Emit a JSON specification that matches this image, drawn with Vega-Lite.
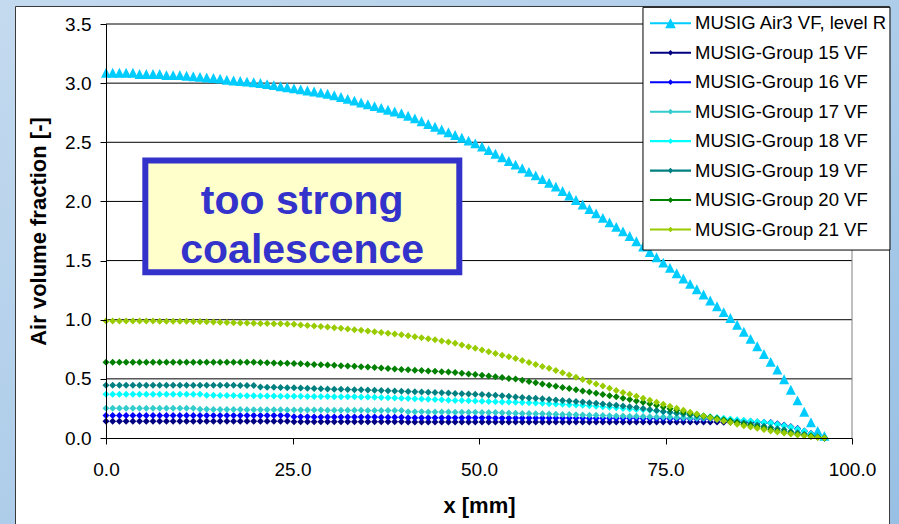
{
  "$schema": "https://vega.github.io/schema/vega-lite/v6.json",
  "width": 746,
  "height": 414,
  "autosize": {"type": "none"},
  "padding": {"left": 106, "top": 24, "right": 47, "bottom": 86},
  "background": "#aacbe8",
  "config": {
    "font": "Liberation Sans",
    "view": {"stroke": null},
    "axis": {"grid": false, "domainColor": "black", "tickColor": "black", "labelColor": "black", "titleColor": "black"},
    "legend": {"padding": 6, "labelFontSize": 18.5, "labelLimit": 320, "labelOffset": 3, "rowPadding": 5.46, "clipHeight": 24, "symbolSize": 1681, "labelColor": "black", "labelFont": "Liberation Sans", "cornerRadius": 0}
  },
  "resolve": {"scale": {"color": "independent"}, "legend": {"color": "independent"}},
  "datasets": {
    "series": [
      {"key": "a", "label": "MUSIG Air3 VF, level R", "idx": 0},
      {"key": "g15", "label": "MUSIG-Group 15 VF", "idx": 1},
      {"key": "g16", "label": "MUSIG-Group 16 VF", "idx": 2},
      {"key": "g17", "label": "MUSIG-Group 17 VF", "idx": 3},
      {"key": "g18", "label": "MUSIG-Group 18 VF", "idx": 4},
      {"key": "g19", "label": "MUSIG-Group 19 VF", "idx": 5},
      {"key": "g20", "label": "MUSIG-Group 20 VF", "idx": 6},
      {"key": "g21", "label": "MUSIG-Group 21 VF", "idx": 7}
    ],
    "grid": [{"g": 0.5}, {"g": 1.0}, {"g": 1.5}, {"g": 2.0}, {"g": 2.5}, {"g": 3.0}, {"g": 3.5}],
    "profiles": [
      {"x": 0, "a": 3.07, "g15": 0.142, "g16": 0.19, "g17": 0.252, "g18": 0.37, "g19": 0.445, "g20": 0.64, "g21": 0.99},
      {"x": 0.9, "a": 3.07, "g15": 0.142, "g16": 0.19, "g17": 0.252, "g18": 0.37, "g19": 0.445, "g20": 0.64, "g21": 0.99},
      {"x": 1.8, "a": 3.07, "g15": 0.142, "g16": 0.19, "g17": 0.252, "g18": 0.37, "g19": 0.445, "g20": 0.64, "g21": 0.99},
      {"x": 2.7, "a": 3.07, "g15": 0.142, "g16": 0.19, "g17": 0.252, "g18": 0.37, "g19": 0.445, "g20": 0.64, "g21": 0.99},
      {"x": 3.6, "a": 3.07, "g15": 0.142, "g16": 0.19, "g17": 0.252, "g18": 0.37, "g19": 0.445, "g20": 0.64, "g21": 0.99},
      {"x": 4.5, "a": 3.06, "g15": 0.142, "g16": 0.19, "g17": 0.252, "g18": 0.37, "g19": 0.445, "g20": 0.64, "g21": 0.99},
      {"x": 5.4, "a": 3.06, "g15": 0.142, "g16": 0.19, "g17": 0.252, "g18": 0.37, "g19": 0.445, "g20": 0.64, "g21": 0.989},
      {"x": 6.3, "a": 3.06, "g15": 0.142, "g16": 0.19, "g17": 0.252, "g18": 0.37, "g19": 0.445, "g20": 0.64, "g21": 0.989},
      {"x": 7.2, "a": 3.06, "g15": 0.142, "g16": 0.19, "g17": 0.252, "g18": 0.37, "g19": 0.445, "g20": 0.64, "g21": 0.988},
      {"x": 8.1, "a": 3.05, "g15": 0.142, "g16": 0.19, "g17": 0.252, "g18": 0.37, "g19": 0.445, "g20": 0.64, "g21": 0.988},
      {"x": 9.0, "a": 3.05, "g15": 0.142, "g16": 0.19, "g17": 0.252, "g18": 0.37, "g19": 0.445, "g20": 0.64, "g21": 0.987},
      {"x": 9.9, "a": 3.05, "g15": 0.142, "g16": 0.19, "g17": 0.252, "g18": 0.37, "g19": 0.445, "g20": 0.64, "g21": 0.987},
      {"x": 10.8, "a": 3.045, "g15": 0.142, "g16": 0.19, "g17": 0.252, "g18": 0.37, "g19": 0.445, "g20": 0.64, "g21": 0.986},
      {"x": 11.7, "a": 3.04, "g15": 0.142, "g16": 0.19, "g17": 0.252, "g18": 0.37, "g19": 0.445, "g20": 0.64, "g21": 0.985},
      {"x": 12.6, "a": 3.035, "g15": 0.142, "g16": 0.19, "g17": 0.242, "g18": 0.37, "g19": 0.445, "g20": 0.64, "g21": 0.984},
      {"x": 13.5, "a": 3.03, "g15": 0.142, "g16": 0.19, "g17": 0.242, "g18": 0.362, "g19": 0.445, "g20": 0.64, "g21": 0.982},
      {"x": 14.4, "a": 3.025, "g15": 0.142, "g16": 0.19, "g17": 0.241, "g18": 0.361, "g19": 0.445, "g20": 0.64, "g21": 0.98},
      {"x": 15.3, "a": 3.02, "g15": 0.142, "g16": 0.19, "g17": 0.241, "g18": 0.36, "g19": 0.445, "g20": 0.64, "g21": 0.979},
      {"x": 16.2, "a": 3.01, "g15": 0.142, "g16": 0.19, "g17": 0.24, "g18": 0.36, "g19": 0.445, "g20": 0.64, "g21": 0.977},
      {"x": 17.1, "a": 3.005, "g15": 0.142, "g16": 0.19, "g17": 0.24, "g18": 0.359, "g19": 0.445, "g20": 0.64, "g21": 0.975},
      {"x": 18.0, "a": 3.0, "g15": 0.142, "g16": 0.19, "g17": 0.24, "g18": 0.358, "g19": 0.444, "g20": 0.64, "g21": 0.973},
      {"x": 18.9, "a": 2.995, "g15": 0.142, "g16": 0.19, "g17": 0.239, "g18": 0.357, "g19": 0.444, "g20": 0.64, "g21": 0.972},
      {"x": 19.8, "a": 2.99, "g15": 0.142, "g16": 0.19, "g17": 0.239, "g18": 0.357, "g19": 0.444, "g20": 0.64, "g21": 0.97},
      {"x": 20.7, "a": 2.983, "g15": 0.142, "g16": 0.19, "g17": 0.239, "g18": 0.356, "g19": 0.432, "g20": 0.639, "g21": 0.969},
      {"x": 21.6, "a": 2.974, "g15": 0.142, "g16": 0.19, "g17": 0.238, "g18": 0.355, "g19": 0.43, "g20": 0.637, "g21": 0.967},
      {"x": 22.5, "a": 2.965, "g15": 0.142, "g16": 0.19, "g17": 0.238, "g18": 0.355, "g19": 0.429, "g20": 0.635, "g21": 0.966},
      {"x": 23.4, "a": 2.956, "g15": 0.142, "g16": 0.19, "g17": 0.238, "g18": 0.354, "g19": 0.427, "g20": 0.633, "g21": 0.965},
      {"x": 24.3, "a": 2.947, "g15": 0.142, "g16": 0.19, "g17": 0.237, "g18": 0.353, "g19": 0.425, "g20": 0.631, "g21": 0.963},
      {"x": 25.2, "a": 2.938, "g15": 0.137, "g16": 0.179, "g17": 0.237, "g18": 0.353, "g19": 0.424, "g20": 0.629, "g21": 0.961},
      {"x": 26.1, "a": 2.929, "g15": 0.137, "g16": 0.179, "g17": 0.237, "g18": 0.352, "g19": 0.422, "g20": 0.627, "g21": 0.956},
      {"x": 27.0, "a": 2.92, "g15": 0.137, "g16": 0.179, "g17": 0.236, "g18": 0.351, "g19": 0.42, "g20": 0.624, "g21": 0.952},
      {"x": 27.9, "a": 2.911, "g15": 0.137, "g16": 0.178, "g17": 0.236, "g18": 0.351, "g19": 0.419, "g20": 0.622, "g21": 0.947},
      {"x": 28.8, "a": 2.902, "g15": 0.137, "g16": 0.178, "g17": 0.236, "g18": 0.35, "g19": 0.417, "g20": 0.619, "g21": 0.942},
      {"x": 29.7, "a": 2.893, "g15": 0.137, "g16": 0.178, "g17": 0.235, "g18": 0.35, "g19": 0.415, "g20": 0.617, "g21": 0.938},
      {"x": 30.6, "a": 2.88, "g15": 0.137, "g16": 0.178, "g17": 0.235, "g18": 0.349, "g19": 0.413, "g20": 0.614, "g21": 0.933},
      {"x": 31.5, "a": 2.865, "g15": 0.137, "g16": 0.178, "g17": 0.235, "g18": 0.349, "g19": 0.412, "g20": 0.611, "g21": 0.927},
      {"x": 32.4, "a": 2.849, "g15": 0.137, "g16": 0.177, "g17": 0.234, "g18": 0.348, "g19": 0.41, "g20": 0.608, "g21": 0.921},
      {"x": 33.3, "a": 2.834, "g15": 0.137, "g16": 0.177, "g17": 0.234, "g18": 0.348, "g19": 0.408, "g20": 0.606, "g21": 0.916},
      {"x": 34.2, "a": 2.819, "g15": 0.137, "g16": 0.177, "g17": 0.234, "g18": 0.347, "g19": 0.407, "g20": 0.603, "g21": 0.91},
      {"x": 35.1, "a": 2.803, "g15": 0.137, "g16": 0.177, "g17": 0.233, "g18": 0.347, "g19": 0.405, "g20": 0.6, "g21": 0.904},
      {"x": 36.0, "a": 2.788, "g15": 0.137, "g16": 0.177, "g17": 0.233, "g18": 0.345, "g19": 0.403, "g20": 0.596, "g21": 0.898},
      {"x": 36.9, "a": 2.773, "g15": 0.137, "g16": 0.176, "g17": 0.233, "g18": 0.342, "g19": 0.401, "g20": 0.591, "g21": 0.892},
      {"x": 37.8, "a": 2.757, "g15": 0.137, "g16": 0.176, "g17": 0.232, "g18": 0.34, "g19": 0.399, "g20": 0.587, "g21": 0.886},
      {"x": 38.7, "a": 2.742, "g15": 0.137, "g16": 0.176, "g17": 0.232, "g18": 0.338, "g19": 0.397, "g20": 0.583, "g21": 0.88},
      {"x": 39.6, "a": 2.727, "g15": 0.137, "g16": 0.176, "g17": 0.232, "g18": 0.336, "g19": 0.395, "g20": 0.579, "g21": 0.873},
      {"x": 40.5, "a": 2.707, "g15": 0.136, "g16": 0.172, "g17": 0.222, "g18": 0.334, "g19": 0.393, "g20": 0.576, "g21": 0.865},
      {"x": 41.4, "a": 2.684, "g15": 0.136, "g16": 0.172, "g17": 0.221, "g18": 0.331, "g19": 0.39, "g20": 0.573, "g21": 0.856},
      {"x": 42.3, "a": 2.66, "g15": 0.136, "g16": 0.172, "g17": 0.221, "g18": 0.329, "g19": 0.388, "g20": 0.57, "g21": 0.848},
      {"x": 43.2, "a": 2.637, "g15": 0.136, "g16": 0.172, "g17": 0.22, "g18": 0.327, "g19": 0.386, "g20": 0.567, "g21": 0.839},
      {"x": 44.1, "a": 2.613, "g15": 0.136, "g16": 0.172, "g17": 0.22, "g18": 0.325, "g19": 0.384, "g20": 0.564, "g21": 0.83},
      {"x": 45.0, "a": 2.59, "g15": 0.136, "g16": 0.171, "g17": 0.219, "g18": 0.323, "g19": 0.382, "g20": 0.561, "g21": 0.821},
      {"x": 45.9, "a": 2.567, "g15": 0.136, "g16": 0.171, "g17": 0.219, "g18": 0.32, "g19": 0.38, "g20": 0.559, "g21": 0.812},
      {"x": 46.8, "a": 2.543, "g15": 0.136, "g16": 0.171, "g17": 0.218, "g18": 0.318, "g19": 0.377, "g20": 0.554, "g21": 0.8},
      {"x": 47.7, "a": 2.52, "g15": 0.136, "g16": 0.171, "g17": 0.218, "g18": 0.316, "g19": 0.375, "g20": 0.548, "g21": 0.786},
      {"x": 48.6, "a": 2.496, "g15": 0.136, "g16": 0.171, "g17": 0.217, "g18": 0.314, "g19": 0.372, "g20": 0.542, "g21": 0.772},
      {"x": 49.5, "a": 2.473, "g15": 0.136, "g16": 0.171, "g17": 0.217, "g18": 0.312, "g19": 0.37, "g20": 0.536, "g21": 0.758},
      {"x": 50.4, "a": 2.446, "g15": 0.136, "g16": 0.171, "g17": 0.216, "g18": 0.31, "g19": 0.367, "g20": 0.531, "g21": 0.744},
      {"x": 51.3, "a": 2.416, "g15": 0.136, "g16": 0.171, "g17": 0.216, "g18": 0.308, "g19": 0.364, "g20": 0.524, "g21": 0.729},
      {"x": 52.2, "a": 2.385, "g15": 0.136, "g16": 0.17, "g17": 0.215, "g18": 0.306, "g19": 0.362, "g20": 0.518, "g21": 0.714},
      {"x": 53.1, "a": 2.355, "g15": 0.136, "g16": 0.17, "g17": 0.214, "g18": 0.305, "g19": 0.358, "g20": 0.511, "g21": 0.7},
      {"x": 54.0, "a": 2.324, "g15": 0.136, "g16": 0.17, "g17": 0.212, "g18": 0.304, "g19": 0.353, "g20": 0.504, "g21": 0.686},
      {"x": 54.9, "a": 2.293, "g15": 0.136, "g16": 0.17, "g17": 0.21, "g18": 0.303, "g19": 0.347, "g20": 0.498, "g21": 0.672},
      {"x": 55.8, "a": 2.263, "g15": 0.136, "g16": 0.17, "g17": 0.208, "g18": 0.301, "g19": 0.343, "g20": 0.488, "g21": 0.655},
      {"x": 56.7, "a": 2.232, "g15": 0.136, "g16": 0.17, "g17": 0.207, "g18": 0.298, "g19": 0.339, "g20": 0.478, "g21": 0.639},
      {"x": 57.6, "a": 2.202, "g15": 0.136, "g16": 0.17, "g17": 0.205, "g18": 0.295, "g19": 0.335, "g20": 0.468, "g21": 0.622},
      {"x": 58.5, "a": 2.171, "g15": 0.136, "g16": 0.17, "g17": 0.204, "g18": 0.293, "g19": 0.331, "g20": 0.457, "g21": 0.605},
      {"x": 59.4, "a": 2.14, "g15": 0.136, "g16": 0.17, "g17": 0.202, "g18": 0.29, "g19": 0.326, "g20": 0.447, "g21": 0.589},
      {"x": 60.3, "a": 2.107, "g15": 0.136, "g16": 0.17, "g17": 0.201, "g18": 0.287, "g19": 0.322, "g20": 0.437, "g21": 0.57},
      {"x": 61.2, "a": 2.07, "g15": 0.136, "g16": 0.169, "g17": 0.199, "g18": 0.285, "g19": 0.318, "g20": 0.427, "g21": 0.551},
      {"x": 62.1, "a": 2.032, "g15": 0.136, "g16": 0.169, "g17": 0.198, "g18": 0.282, "g19": 0.313, "g20": 0.418, "g21": 0.532},
      {"x": 63.0, "a": 1.994, "g15": 0.136, "g16": 0.169, "g17": 0.196, "g18": 0.28, "g19": 0.309, "g20": 0.408, "g21": 0.513},
      {"x": 63.9, "a": 1.956, "g15": 0.136, "g16": 0.169, "g17": 0.195, "g18": 0.277, "g19": 0.305, "g20": 0.398, "g21": 0.494},
      {"x": 64.8, "a": 1.918, "g15": 0.136, "g16": 0.168, "g17": 0.193, "g18": 0.273, "g19": 0.299, "g20": 0.388, "g21": 0.476},
      {"x": 65.7, "a": 1.881, "g15": 0.136, "g16": 0.168, "g17": 0.192, "g18": 0.268, "g19": 0.294, "g20": 0.378, "g21": 0.457},
      {"x": 66.6, "a": 1.843, "g15": 0.136, "g16": 0.168, "g17": 0.19, "g18": 0.264, "g19": 0.288, "g20": 0.368, "g21": 0.439},
      {"x": 67.5, "a": 1.805, "g15": 0.136, "g16": 0.167, "g17": 0.189, "g18": 0.26, "g19": 0.282, "g20": 0.358, "g21": 0.42},
      {"x": 68.4, "a": 1.767, "g15": 0.136, "g16": 0.167, "g17": 0.187, "g18": 0.255, "g19": 0.276, "g20": 0.348, "g21": 0.402},
      {"x": 69.3, "a": 1.729, "g15": 0.136, "g16": 0.167, "g17": 0.186, "g18": 0.25, "g19": 0.271, "g20": 0.337, "g21": 0.385},
      {"x": 70.2, "a": 1.69, "g15": 0.136, "g16": 0.166, "g17": 0.184, "g18": 0.246, "g19": 0.265, "g20": 0.325, "g21": 0.369},
      {"x": 71.1, "a": 1.645, "g15": 0.135, "g16": 0.166, "g17": 0.183, "g18": 0.241, "g19": 0.258, "g20": 0.313, "g21": 0.353},
      {"x": 72.0, "a": 1.6, "g15": 0.135, "g16": 0.165, "g17": 0.181, "g18": 0.238, "g19": 0.25, "g20": 0.302, "g21": 0.336},
      {"x": 72.9, "a": 1.555, "g15": 0.135, "g16": 0.165, "g17": 0.18, "g18": 0.234, "g19": 0.241, "g20": 0.29, "g21": 0.32},
      {"x": 73.8, "a": 1.51, "g15": 0.135, "g16": 0.164, "g17": 0.178, "g18": 0.228, "g19": 0.233, "g20": 0.276, "g21": 0.303},
      {"x": 74.7, "a": 1.465, "g15": 0.135, "g16": 0.164, "g17": 0.177, "g18": 0.222, "g19": 0.225, "g20": 0.262, "g21": 0.286},
      {"x": 75.6, "a": 1.42, "g15": 0.135, "g16": 0.163, "g17": 0.175, "g18": 0.216, "g19": 0.217, "g20": 0.248, "g21": 0.268},
      {"x": 76.5, "a": 1.375, "g15": 0.135, "g16": 0.163, "g17": 0.173, "g18": 0.21, "g19": 0.209, "g20": 0.234, "g21": 0.251},
      {"x": 77.4, "a": 1.33, "g15": 0.135, "g16": 0.162, "g17": 0.172, "g18": 0.204, "g19": 0.202, "g20": 0.22, "g21": 0.234},
      {"x": 78.3, "a": 1.285, "g15": 0.135, "g16": 0.162, "g17": 0.17, "g18": 0.198, "g19": 0.195, "g20": 0.209, "g21": 0.218},
      {"x": 79.2, "a": 1.24, "g15": 0.135, "g16": 0.161, "g17": 0.168, "g18": 0.192, "g19": 0.188, "g20": 0.198, "g21": 0.203},
      {"x": 80.1, "a": 1.195, "g15": 0.135, "g16": 0.161, "g17": 0.167, "g18": 0.186, "g19": 0.18, "g20": 0.187, "g21": 0.187},
      {"x": 81.0, "a": 1.145, "g15": 0.135, "g16": 0.16, "g17": 0.165, "g18": 0.18, "g19": 0.173, "g20": 0.175, "g21": 0.172},
      {"x": 81.9, "a": 1.096, "g15": 0.135, "g16": 0.157, "g17": 0.161, "g18": 0.174, "g19": 0.164, "g20": 0.164, "g21": 0.156},
      {"x": 82.8, "a": 1.046, "g15": 0.134, "g16": 0.153, "g17": 0.158, "g18": 0.167, "g19": 0.155, "g20": 0.152, "g21": 0.143},
      {"x": 83.7, "a": 0.997, "g15": 0.134, "g16": 0.15, "g17": 0.154, "g18": 0.161, "g19": 0.146, "g20": 0.141, "g21": 0.13},
      {"x": 84.6, "a": 0.94, "g15": 0.133, "g16": 0.147, "g17": 0.151, "g18": 0.155, "g19": 0.137, "g20": 0.129, "g21": 0.117},
      {"x": 85.5, "a": 0.88, "g15": 0.132, "g16": 0.143, "g17": 0.147, "g18": 0.149, "g19": 0.128, "g20": 0.117, "g21": 0.104},
      {"x": 86.4, "a": 0.82, "g15": 0.131, "g16": 0.139, "g17": 0.143, "g18": 0.142, "g19": 0.119, "g20": 0.106, "g21": 0.092},
      {"x": 87.3, "a": 0.758, "g15": 0.13, "g16": 0.136, "g17": 0.138, "g18": 0.136, "g19": 0.109, "g20": 0.094, "g21": 0.082},
      {"x": 88.2, "a": 0.692, "g15": 0.128, "g16": 0.133, "g17": 0.134, "g18": 0.13, "g19": 0.099, "g20": 0.083, "g21": 0.071},
      {"x": 89.1, "a": 0.626, "g15": 0.126, "g16": 0.13, "g17": 0.129, "g18": 0.124, "g19": 0.089, "g20": 0.071, "g21": 0.06},
      {"x": 90.0, "a": 0.56, "g15": 0.118, "g16": 0.118, "g17": 0.117, "g18": 0.112, "g19": 0.079, "g20": 0.06, "g21": 0.05},
      {"x": 90.9, "a": 0.479, "g15": 0.108, "g16": 0.107, "g17": 0.106, "g18": 0.101, "g19": 0.069, "g20": 0.049, "g21": 0.042},
      {"x": 91.8, "a": 0.39, "g15": 0.095, "g16": 0.093, "g17": 0.092, "g18": 0.088, "g19": 0.056, "g20": 0.04, "g21": 0.034},
      {"x": 92.7, "a": 0.3, "g15": 0.08, "g16": 0.078, "g17": 0.077, "g18": 0.075, "g19": 0.044, "g20": 0.032, "g21": 0.026},
      {"x": 93.6, "a": 0.204, "g15": 0.06, "g16": 0.058, "g17": 0.058, "g18": 0.058, "g19": 0.031, "g20": 0.024, "g21": 0.018},
      {"x": 94.5, "a": 0.115, "g15": 0.037, "g16": 0.035, "g17": 0.036, "g18": 0.036, "g19": 0.019, "g20": 0.016, "g21": 0.01},
      {"x": 95.4, "a": 0.042, "g15": 0.016, "g16": 0.015, "g17": 0.016, "g18": 0.016, "g19": 0.009, "g20": 0.008, "g21": 0.005},
      {"x": 96.3, "a": 0, "g15": 0, "g16": 0, "g17": 0, "g18": 0, "g19": 0, "g20": 0, "g21": 0}
    ]
  },
  "layer": [
    {
      "description": "Slide background behind the chart panel",
      "data": {"values": [{}]},
      "mark": {"type": "rect", "color": {"gradient": "linear", "x1": 0, "y1": 0, "x2": 1, "y2": 1, "stops": [{"offset": 0, "color": "#c4daef"}, {"offset": 1, "color": "#98c0e4"}]}},
      "encoding": {
        "x": {"datum": -14.4, "type": "quantitative", "scale": {"domain": [0, 100], "nice": false, "zero": false}},
        "x2": {"datum": 106.5},
        "y": {"datum": 3.72, "type": "quantitative", "scale": {"domain": [0, 3.5], "nice": false, "zero": false}},
        "y2": {"datum": -0.75}
      }
    },
    {
      "description": "White chart panel",
      "data": {"values": [{}]},
      "mark": {"type": "rect", "fill": "white", "stroke": "#3a3a3a", "strokeWidth": 1},
      "encoding": {
        "x": {"datum": -12.13, "type": "quantitative", "scale": {"domain": [0, 100], "nice": false, "zero": false}},
        "x2": {"datum": 105.03},
        "y": {"datum": 3.648, "type": "quantitative", "scale": {"domain": [0, 3.5], "nice": false, "zero": false}},
        "y2": {"datum": -0.8}
      }
    },
    {
      "description": "Horizontal gridlines",
      "data": {"name": "grid"},
      "mark": {"type": "rule", "color": "black", "strokeWidth": 1},
      "encoding": {
        "y": {"field": "g", "type": "quantitative", "scale": {"domain": [0, 3.5], "nice": false, "zero": false}}
      }
    },
    {
      "description": "Right edge of the plot area",
      "data": {"values": [{}]},
      "mark": {"type": "rule", "color": "#808080", "strokeWidth": 1},
      "encoding": {
        "x": {"datum": 100, "type": "quantitative", "scale": {"domain": [0, 100], "nice": false, "zero": false}},
        "y": {"datum": 0, "type": "quantitative", "scale": {"domain": [0, 3.5], "nice": false, "zero": false}},
        "y2": {"datum": 3.5}
      }
    },
    {
      "description": "Air3 volume fraction (triangles)",
      "data": {"name": "profiles"},
      "transform": [
        {"fold": ["a"], "as": ["key", "vf"]},
        {"lookup": "key", "from": {"data": {"name": "series"}, "key": "key", "fields": ["label", "idx"]}}
      ],
      "mark": {"type": "point", "filled": true, "opacity": 1, "size": 2225, "strokeWidth": 0},
      "encoding": {
        "x": {"field": "x", "type": "quantitative", "scale": {"domain": [0, 100], "nice": false, "zero": false},
              "axis": {"title": "x [mm]", "zindex": 1, "values": [0, 25, 50, 75, 100], "format": ".1f", "labelFontSize": 19, "labelPadding": 16, "tickSize": 6, "titleFontSize": 22, "titleFontWeight": "bold", "titlePadding": 16, "labelFlush": false}},
        "y": {"field": "vf", "type": "quantitative", "scale": {"domain": [0, 3.5], "nice": false, "zero": false},
              "axis": {"title": "Air volume fraction [-]", "zindex": 1, "values": [0, 0.5, 1, 1.5, 2, 2.5, 3, 3.5], "format": ".1f", "labelFontSize": 19, "labelPadding": 9, "tickSize": 6, "titleFontSize": 22, "titleFontWeight": "bold", "titlePadding": 14, "labelFlush": false}},
        "color": {"field": "label", "type": "nominal",
                  "scale": {"domain": ["MUSIG Air3 VF, level R"], "range": ["#00ccff"]},
                  "legend": {"title": null, "orient": "none", "legendX": 537, "legendY": -18.7,
                             "symbolType": "M-1,-0.05H1V0.05H-1ZM0,-0.25L0.26,0.24L-0.26,0.24Z"}},
        "shape": {"field": "key", "type": "nominal", "legend": null,
                  "scale": {"domain": ["a", "g15", "g16", "g17", "g18", "g19", "g20", "g21"],
                            "range": ["M0,-0.3L0.212,0.12L-0.212,0.12Z", "M0,-0.09L0.09,0L0,0.09L-0.09,0Z", "M0,-0.09L0.09,0L0,0.09L-0.09,0Z", "M0,-0.09L0.09,0L0,0.09L-0.09,0Z", "M0,-0.09L0.09,0L0,0.09L-0.09,0Z", "M0,-0.09L0.09,0L0,0.09L-0.09,0Z", "M0,-0.09L0.09,0L0,0.09L-0.09,0Z", "M0,-0.09L0.09,0L0,0.09L-0.09,0Z"]}}
      }
    },
    {
      "description": "MUSIG group volume fractions (diamonds), drawn series by series",
      "data": {"name": "profiles"},
      "transform": [
        {"fold": ["g15", "g16", "g17", "g18", "g19", "g20", "g21"], "as": ["key", "vf"]},
        {"lookup": "key", "from": {"data": {"name": "series"}, "key": "key", "fields": ["label", "idx"]}}
      ],
      "mark": {"type": "point", "filled": true, "opacity": 1, "size": 6050, "strokeWidth": 0},
      "encoding": {
        "x": {"field": "x", "type": "quantitative", "scale": {"domain": [0, 100], "nice": false, "zero": false}},
        "y": {"field": "vf", "type": "quantitative", "scale": {"domain": [0, 3.5], "nice": false, "zero": false}},
        "color": {"field": "label", "type": "nominal",
                  "scale": {"domain": ["MUSIG-Group 15 VF", "MUSIG-Group 16 VF", "MUSIG-Group 17 VF", "MUSIG-Group 18 VF", "MUSIG-Group 19 VF", "MUSIG-Group 20 VF", "MUSIG-Group 21 VF"],
                            "range": ["#000080", "#0000ff", "#33cccc", "#00ffff", "#008080", "#008000", "#99cc00"]},
                  "legend": {"title": null, "orient": "none", "legendX": 537, "legendY": 10.76,
                             "symbolType": "M-1,-0.05H1V0.05H-1ZM0,-0.139L0.139,0L0,0.139L-0.139,0Z"}},
        "shape": {"field": "key", "type": "nominal", "legend": null},
        "order": {"field": "idx", "type": "quantitative"}
      }
    },
    {
      "description": "Legend frame, drawn over the plot",
      "data": {"values": [{}]},
      "mark": {"type": "rect", "fill": "white", "stroke": "black", "strokeWidth": 1},
      "encoding": {
        "x": {"datum": 71.98, "type": "quantitative", "scale": {"domain": [0, 100], "nice": false, "zero": false}},
        "x2": {"datum": 105.09},
        "y": {"datum": 3.641, "type": "quantitative", "scale": {"domain": [0, 3.5], "nice": false, "zero": false}},
        "y2": {"datum": 1.589}
      }
    },
    {
      "description": "Annotation box",
      "data": {"values": [{}]},
      "mark": {"type": "rect", "fill": "#ffffcc", "stroke": "#3333cc", "strokeWidth": 6},
      "encoding": {
        "x": {"datum": 5.27, "type": "quantitative", "scale": {"domain": [0, 100], "nice": false, "zero": false}},
        "x2": {"datum": 47.36},
        "y": {"datum": 2.347, "type": "quantitative", "scale": {"domain": [0, 3.5], "nice": false, "zero": false}},
        "y2": {"datum": 1.402}
      }
    },
    {
      "description": "Annotation text",
      "data": {"values": [{"note": "too strong\ncoalescence"}]},
      "mark": {"type": "text", "font": "Liberation Sans", "fontSize": 41, "fontWeight": "bold", "color": "#3333cc", "align": "center", "baseline": "alphabetic", "lineBreak": "\n", "lineHeight": 49},
      "encoding": {
        "text": {"field": "note"},
        "x": {"datum": 26.3, "type": "quantitative", "scale": {"domain": [0, 100], "nice": false, "zero": false}},
        "y": {"datum": 1.893, "type": "quantitative", "scale": {"domain": [0, 3.5], "nice": false, "zero": false}}
      }
    }
  ]
}
